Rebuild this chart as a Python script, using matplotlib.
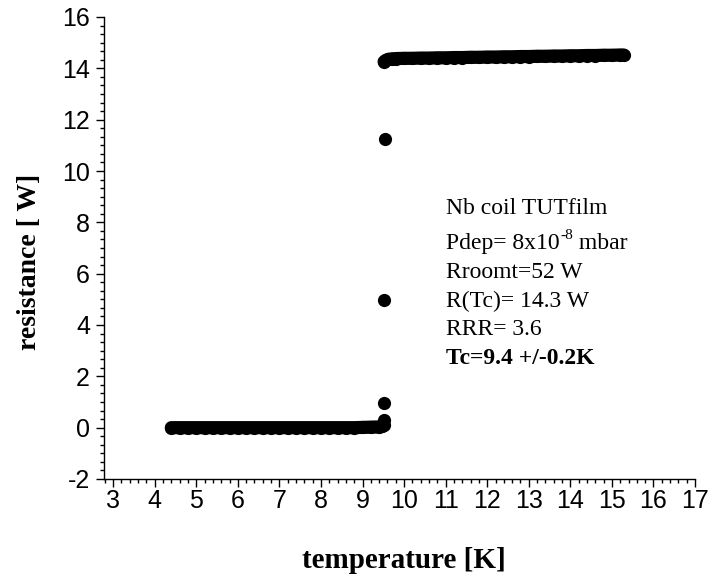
import matplotlib
matplotlib.use("Agg")
import matplotlib.pyplot as plt
from matplotlib.ticker import MultipleLocator

# superconducting (low) branch
t_low = [4.4, 4.6, 4.8, 5.0, 5.2, 5.4, 5.6, 5.8, 6.0, 6.2, 6.4, 6.6, 6.8,
         7.0, 7.2, 7.4, 7.6, 7.8, 8.0, 8.2, 8.4, 8.6, 8.8, 9.0, 9.2, 9.4, 9.48]
r_low = [0.0, 0.0, 0.0, 0.0, 0.0, 0.0, 0.0, 0.0, 0.0, 0.0, 0.0, 0.0, 0.0,
         0.0, 0.0, 0.0, 0.0, 0.0, 0.0, 0.0, 0.0, 0.0, 0.0, 0.01, 0.02, 0.03, 0.05]

# transition points
t_tr = [9.51, 9.51, 9.51, 9.52, 9.53]
r_tr = [0.12, 0.3, 0.97, 4.98, 11.25]

# normal (high) branch
t_high = [9.52, 9.56, 9.62, 9.7, 9.8, 10.0, 10.2, 10.4, 10.6, 10.8, 11.0, 11.2,
          11.4, 11.6, 11.8, 12.0, 12.2, 12.4, 12.6, 12.8, 13.0, 13.2, 13.4,
          13.6, 13.8, 14.0, 14.2, 14.4, 14.6, 14.8, 15.0, 15.2, 15.28]
r_high = [14.26, 14.31, 14.35, 14.37, 14.38, 14.39, 14.39, 14.40, 14.40, 14.41,
          14.41, 14.42, 14.42, 14.43, 14.43, 14.44, 14.44, 14.45, 14.45, 14.46,
          14.46, 14.47, 14.47, 14.48, 14.48, 14.49, 14.49, 14.50, 14.50, 14.51,
          14.51, 14.52, 14.52]

serif = "Liberation Serif"
sans = "Liberation Sans"
plt.rcParams["axes.unicode_minus"] = False

fig = plt.figure(figsize=(7.12, 5.76), dpi=100)
ax = fig.add_axes([104/712, 1-479/576, (695-104)/712, (479-17)/576])

ms = 9.5
ax.plot(t_low, r_low, "-o", color="black", lw=ms, ms=ms, markeredgewidth=0,
        solid_capstyle="round", solid_joinstyle="round")
ax.plot(t_high, r_high, "-o", color="black", lw=ms, ms=ms, markeredgewidth=0,
        solid_capstyle="round", solid_joinstyle="round")
ax.plot(t_tr, r_tr, "o", color="black", ms=ms, markeredgewidth=0)

ax.set_xlim(2.78, 17)
ax.set_ylim(-2, 16)
ax.xaxis.set_major_locator(MultipleLocator(1))
ax.xaxis.set_minor_locator(MultipleLocator(0.2))
ax.yaxis.set_major_locator(MultipleLocator(2))
ax.yaxis.set_minor_locator(MultipleLocator(2/6))

ax.spines["top"].set_visible(False)
ax.spines["right"].set_visible(False)
for s in ["left", "bottom"]:
    ax.spines[s].set_linewidth(1.0)
ax.tick_params(which="major", direction="out", length=6, width=1.0, labelsize=18)
ax.tick_params(which="minor", direction="out", length=3.2, width=1.0)
ax.tick_params(axis="x", which="major", pad=1)
ax.tick_params(axis="y", which="major", pad=4)
for lab in ax.get_xticklabels() + ax.get_yticklabels():
    lab.set_fontfamily(sans)

fig.text(404/712, 1-568/576, "temperature [K]", family=serif, fontweight="bold",
         fontsize=21, ha="center", va="baseline")
fig.text(36/712, 1-262/576, "resistance [ W]", family=serif, fontweight="bold",
         fontsize=20, ha="center", va="baseline", rotation=90,
         rotation_mode="anchor")

fs = 17
x0 = 446/712
lines = ["Nb coil TUTfilm", None, "Rroomt=52 W", "R(Tc)= 14.3 W", "RRR= 3.6"]
baselines = [214, 249, 278, 307, 335]
for txt, yb in zip(lines, baselines):
    if txt is not None:
        fig.text(x0, 1-yb/576, txt, family=serif, fontsize=fs, va="baseline")

# Pdep line with superscript exponent
renderer = fig.canvas.get_renderer()
t1 = fig.text(x0, 1-249/576, "Pdep= 8x10", family=serif, fontsize=fs, va="baseline")
bb = t1.get_window_extent(renderer)
t2 = fig.text(bb.x1/712 + 0.5/712, 1-239/576, "-8", family=serif, fontsize=11,
              va="baseline")
bb2 = t2.get_window_extent(renderer)
fig.text(bb2.x1/712, 1-249/576, " mbar", family=serif, fontsize=fs, va="baseline")

fig.text(x0, 1-364/576, "Tc=9.4 +/-0.2K", family=serif, fontsize=fs,
         fontweight="bold", va="baseline")

fig.savefig("out.png", dpi=100)
